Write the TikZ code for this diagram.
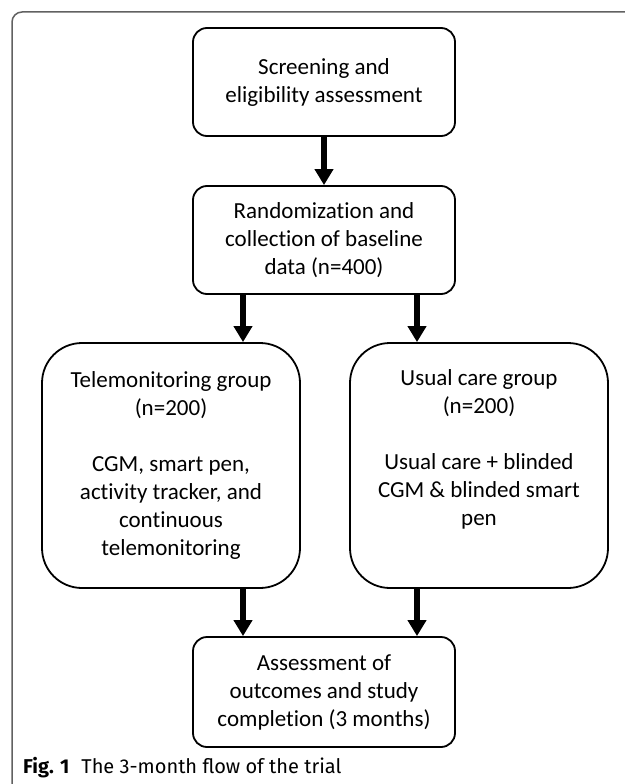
\documentclass[tikz,border=0pt]{standalone}
\usepackage{fontspec}
\setmainfont{Carlito}[Ligatures={NoCommon}]
\newfontfamily\capfont{Fira Sans}
\usetikzlibrary{arrows.meta,calc}
\begin{document}
\begin{tikzpicture}[
  x=1pt,y=-1pt,
  box/.style={draw=black, line width=1.8pt, rounded corners=14pt, align=center, inner sep=0pt,
    font=\fontsize{23}{28}\selectfont, minimum width=262pt},
  bigbox/.style={box, rounded corners=40pt, minimum width=258pt, minimum height=245pt},
  arr/.style={line width=5.5pt, -{Triangle[length=16pt,width=18pt]}},
  frameline/.style={draw=black!62, line width=1.5pt, rounded corners=10pt}
]
\useasboundingbox (0,0) rectangle (624,784);
\draw[frameline] (640,12) -- (12,12) -- (12,800);

\node[box, minimum height=108pt] (s) at (324,82) {Screening and\\eligibility assessment};
\node[box, minimum height=108pt] (r) at (324,240) {Randomization and\\collection of baseline\\data (n=400)};
\node[bigbox] (t) at (171,465.5) {Telemonitoring group\\(n=200)\\[28pt]CGM, smart pen,\\activity tracker, and\\continuous\\telemonitoring};
\node[bigbox] (u) at (479,465.5) {Usual care group\\(n=200)\\[28pt]Usual care + blinded\\CGM \& blinded smart\\pen\\\strut};
\node[box, minimum height=110pt] (a) at (324,692) {Assessment of\\outcomes and study\\completion (3 months)};

\node[anchor=base west, inner sep=0pt, font=\capfont\fontsize{20}{24}\selectfont] (cap) at (23,773)
  {\textbf{Fig. 1}\hspace{12pt}The 3-month flow of the trial};

\coordinate (r1) at ([xshift=-81pt]r.south);
\coordinate (r2) at ([xshift=93pt]r.south);
\coordinate (t1) at ([xshift=72pt]t.south);
\coordinate (u1) at ([xshift=-62pt]u.south);

\draw[arr] (s.south) -- (r.north);
\draw[arr] (r1) -- (r1 |- t.north);
\draw[arr] (r2) -- (r2 |- u.north);
\draw[arr] (t1) -- (t1 |- a.north);
\draw[arr] (u1) -- (u1 |- a.north);
\end{tikzpicture}
\end{document}
